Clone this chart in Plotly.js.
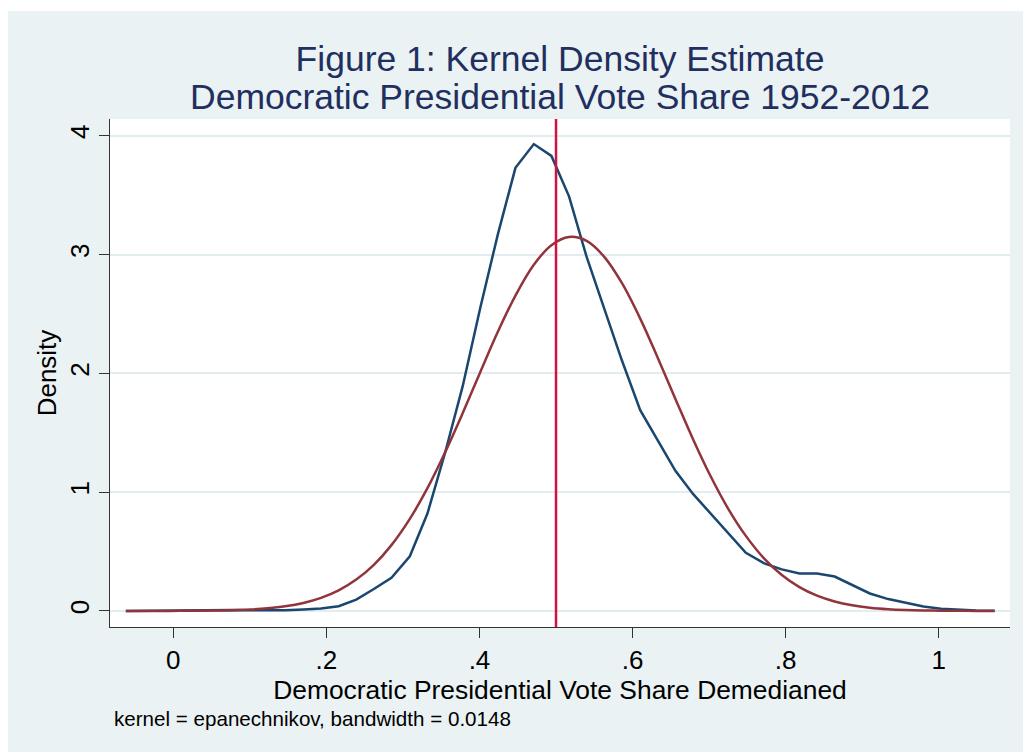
<!DOCTYPE html>
<html>
<head>
<meta charset="utf-8">
<script src="https://cdn.plot.ly/plotly-3.0.1.min.js"></script>
<style>
  html, body { margin: 0; padding: 0; background: #ffffff; }
  #chart { position: absolute; left: 8px; top: 11px; width: 1015px; height: 741px; }
</style>
</head>
<body>
<div id="chart"></div>
<script>
// Evaluation grid (x) shared by both curves
const gridX = [-0.062, -0.039, -0.016, 0.008, 0.031, 0.054, 0.077, 0.100, 0.123, 0.146,
               0.170, 0.193, 0.216, 0.239, 0.262, 0.285, 0.309, 0.332, 0.355, 0.378,
               0.401, 0.424, 0.447, 0.471, 0.494, 0.517, 0.540, 0.563, 0.586, 0.610,
               0.633, 0.656, 0.679, 0.702, 0.725, 0.748, 0.772, 0.795, 0.818, 0.841,
               0.864, 0.887, 0.910, 0.934, 0.957, 0.980, 1.003, 1.026, 1.049, 1.073];

// Kernel density estimate (blue)
const kdeDensity = [0, 0.001, 0.003, 0.006, 0.008, 0.010, 0.008, 0.005, 0.005, 0.006,
                    0.012, 0.020, 0.040, 0.095, 0.185, 0.280, 0.460, 0.820, 1.330, 1.890,
                    2.550, 3.170, 3.730, 3.930, 3.830, 3.490, 2.980, 2.550, 2.110, 1.690,
                    1.430, 1.180, 0.985, 0.817, 0.652, 0.490, 0.400, 0.350, 0.315, 0.315,
                    0.290, 0.215, 0.147, 0.100, 0.068, 0.038, 0.018, 0.009, 0.004, 0.001];

// Normal density overlay (red)
const normalDensity = [0.0001, 0.0002, 0.0004, 0.0009, 0.0018, 0.0035, 0.0067, 0.0125, 0.0225, 0.039,
                       0.0675, 0.110, 0.173, 0.264, 0.388, 0.554, 0.775, 1.034, 1.334, 1.664,
                       2.010, 2.350, 2.655, 2.914, 3.079, 3.148, 3.115, 2.981, 2.761, 2.461,
                       2.130, 1.785, 1.446, 1.134, 0.860, 0.632, 0.441, 0.303, 0.201, 0.129,
                       0.080, 0.048, 0.028, 0.0154, 0.0084, 0.0044, 0.0022, 0.0011, 0.0005, 0.0002];

// Reference line
const referenceX = 0.5;

// Ticks
const xTickVals = [0, 0.2, 0.4, 0.6, 0.8, 1];
const xTickText = ["0", ".2", ".4", ".6", ".8", "1"];
const yTickVals = [0, 1, 2, 3, 4];
const yTickText = ["0", "1", "2", "3", "4"];

const titleLine1 = "Figure 1: Kernel Density Estimate";
const titleLine2 = "Democratic Presidential Vote Share 1952-2012";
const xTitle = "Democratic Presidential Vote Share Demedianed";
const yTitle = "Density";
const noteText = "kernel = epanechnikov, bandwidth = 0.0148";

const FONT = "Liberation Sans, Arial, Helvetica, sans-serif";
const BG = "#EAF2F3";

const traces = [
  {
    x: gridX, y: kdeDensity, type: "scatter", mode: "lines",
    line: { color: "#1A476F", width: 2.5 }, name: "Kernel density", hoverinfo: "x+y"
  },
  {
    x: gridX, y: normalDensity, type: "scatter", mode: "lines",
    line: { color: "#90353B", width: 2.5, shape: "spline", smoothing: 1 }, name: "Normal density", hoverinfo: "x+y"
  }
];

const layout = {
  width: 1015, height: 741,
  paper_bgcolor: BG, plot_bgcolor: "#ffffff",
  showlegend: false,
  margin: { l: 102, r: 13, t: 108, b: 125 },
  font: { family: FONT, color: "#000000", size: 26 },
  title: {
    text: titleLine1,
    font: { family: FONT, size: 35.5, color: "#1F2F5F" },
    x: 0.5, xref: "paper", xanchor: "center",
    y: 1 - 47.5 / 741, yref: "container", yanchor: "middle"
  },
  xaxis: {
    range: [-0.0827, 1.0931],
    tickvals: xTickVals, ticktext: xTickText,
    ticks: "outside", ticklen: 10, tickwidth: 1, tickcolor: "#333333",
    showline: true, linecolor: "#333333", linewidth: 1, mirror: false,
    showgrid: false, zeroline: false,
    tickfont: { family: FONT, size: 26, color: "#000000" },
    title: { text: xTitle, font: { family: FONT, size: 26.4, color: "#000000" }, standoff: 0 },
    automargin: false
  },
  yaxis: {
    range: [-0.135, 4.141],
    tickvals: yTickVals, ticktext: yTickText,
    tickangle: -90,
    ticks: "outside", ticklen: 10, tickwidth: 1, tickcolor: "#333333",
    showline: true, linecolor: "#333333", linewidth: 1, mirror: false,
    showgrid: true, gridcolor: "#E3ECEE", gridwidth: 2,
    zeroline: false,
    tickfont: { family: FONT, size: 26, color: "#000000" },
    title: { text: yTitle, font: { family: FONT, size: 26, color: "#000000" }, standoff: 0 },
    automargin: false
  },
  shapes: [
    {
      type: "line", xref: "x", yref: "paper",
      x0: referenceX, x1: referenceX, y0: 0, y1: 1,
      line: { color: "#D11242", width: 2.5 }
    }
  ],
  annotations: [
    {
      text: titleLine2, xref: "paper", yref: "paper",
      x: 0.5, xanchor: "center", y: 1 + (108 - 86) / 508, yanchor: "middle",
      showarrow: false, font: { family: FONT, size: 35.5, color: "#1F2F5F" }
    },
    {
      text: noteText, xref: "paper", yref: "paper",
      x: 2 / 900, xanchor: "left", y: -(707 - 616) / 508, yanchor: "middle",
      showarrow: false, font: { family: FONT, size: 20.6, color: "#000000" }
    }
  ]
};

Plotly.newPlot("chart", traces, layout, { displayModeBar: false, staticPlot: true });
</script>
</body>
</html>
